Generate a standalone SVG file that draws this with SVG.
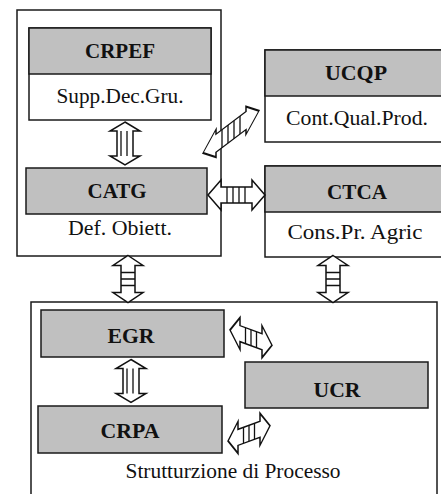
<svg xmlns="http://www.w3.org/2000/svg" width="441" height="494" viewBox="0 0 441 494">
<style>
.box{fill:#fff;stroke:#1a1a1a;stroke-width:1.5}
.hdr{fill:#c0c0c0;stroke:#1a1a1a;stroke-width:1.5}
text{font-family:"Liberation Serif","Times New Roman",serif;font-size:20px;text-anchor:middle;fill:#111}
.b{font-weight:bold;font-size:21px}
.arr{fill:#fff;stroke:#111;stroke-width:1.5;stroke-linejoin:miter}
.st{stroke:#111;stroke-width:1.3;fill:none}
</style>
<defs>
<g id="ladderV">
<polygon class="arr" points="0,-23.5 15,-13.5 7,-13.5 7,13.5 15,13.5 0,23.5 -15,13.5 -7,13.5 -7,-13.5 -15,-13.5"/>
<path class="st" d="M-7,-6.5H7M-7,0H7M-7,6.5H7"/>
</g>
<g id="tubeV">
<polygon class="arr" points="0,-21.5 15,-12.5 8,-12.5 8,12.5 15,12.5 0,21.5 -15,12.5 -8,12.5 -8,-12.5 -15,-12.5"/>
<path class="st" d="M-4,-12.5V12.5M2,-12.5V12.5"/>
</g>
<g id="barH">
<polygon class="arr" points="0,0 10,-16 10,-8 32,-8 32,-16 42,0 32,16 32,8 10,8 10,16"/>
<path class="st" d="M15.5,-8V8M21,-8V8M26.5,-8V8"/>
</g>
</defs>

<g id="outer-left"><rect class="box" x="17" y="10" width="204" height="246"/></g>
<g id="outer-bottom"><rect class="box" x="31" y="302" width="406" height="200"/><text x="233" y="478" textLength="215" lengthAdjust="spacingAndGlyphs">Strutturzione di Processo</text></g>

<g id="CRPEF">
<rect class="box" x="29" y="28" width="182" height="92"/>
<rect class="hdr" x="29" y="28" width="182" height="46"/>
<text class="b" x="120" y="58" textLength="70" lengthAdjust="spacingAndGlyphs">CRPEF</text>
<text x="120" y="103" textLength="127" lengthAdjust="spacingAndGlyphs">Supp.Dec.Gru.</text>
</g>
<g id="CATG">
<rect class="hdr" x="26" y="168" width="181" height="46"/>
<text class="b" x="117" y="198" textLength="59" lengthAdjust="spacingAndGlyphs">CATG</text>
<text x="120" y="235" textLength="104" lengthAdjust="spacingAndGlyphs">Def. Obiett.</text>
</g>
<g id="UCQP">
<rect class="box" x="265" y="50" width="180" height="92"/>
<rect class="hdr" x="265" y="50" width="180" height="46"/>
<text class="b" x="356" y="80" textLength="62" lengthAdjust="spacingAndGlyphs">UCQP</text>
<text x="357" y="125" textLength="142" lengthAdjust="spacingAndGlyphs">Cont.Qual.Prod.</text>
</g>
<g id="CTCA">
<rect class="box" x="265" y="166" width="180" height="91"/>
<rect class="hdr" x="265" y="166" width="180" height="46"/>
<text class="b" x="357" y="199" textLength="60" lengthAdjust="spacingAndGlyphs">CTCA</text>
<text x="355" y="239" textLength="135" lengthAdjust="spacingAndGlyphs">Cons.Pr. Agric</text>
</g>
<g id="EGR">
<rect class="hdr" x="41" y="310" width="183" height="47"/>
<text class="b" x="131" y="343" textLength="47" lengthAdjust="spacingAndGlyphs">EGR</text>
</g>
<g id="UCR">
<rect class="hdr" x="245" y="362" width="183" height="46"/>
<text class="b" x="337" y="397" textLength="47" lengthAdjust="spacingAndGlyphs">UCR</text>
</g>
<g id="CRPA">
<rect class="hdr" x="38" y="406" width="184" height="47"/>
<text class="b" x="130" y="438" textLength="59" lengthAdjust="spacingAndGlyphs">CRPA</text>
</g>

<g id="connectors">
<use href="#tubeV" transform="translate(125,143.5)"/>
<use href="#tubeV" transform="translate(131,381)"/>
<use href="#ladderV" transform="translate(128,279)"/>
<use href="#ladderV" transform="translate(333,279)"/>
<g id="catg-ctca">
<polygon class="arr" points="208,195 221,180 221,187 252,187 252,180 265,195 252,210 252,203 221,203 221,210"/>
<path class="st" d="M227,187V203M233,187V203M239,187V203M245,187V203"/>
</g>
<g id="catg-ucqp" transform="translate(203,153) skewY(-37)">
<polygon class="arr" points="0,0 13,-14 13,-9 43,-9 43,-14 56,0 43,14 43,9 13,9 13,14"/>
<path class="st" d="M19,-9V9M25,-9V9M31,-9V9M37,-9V9"/>
</g>
<use href="#barH" transform="translate(230,330) skewY(20)"/>
<use href="#barH" transform="translate(228,441) skewY(-20)"/>
</g>
</svg>
